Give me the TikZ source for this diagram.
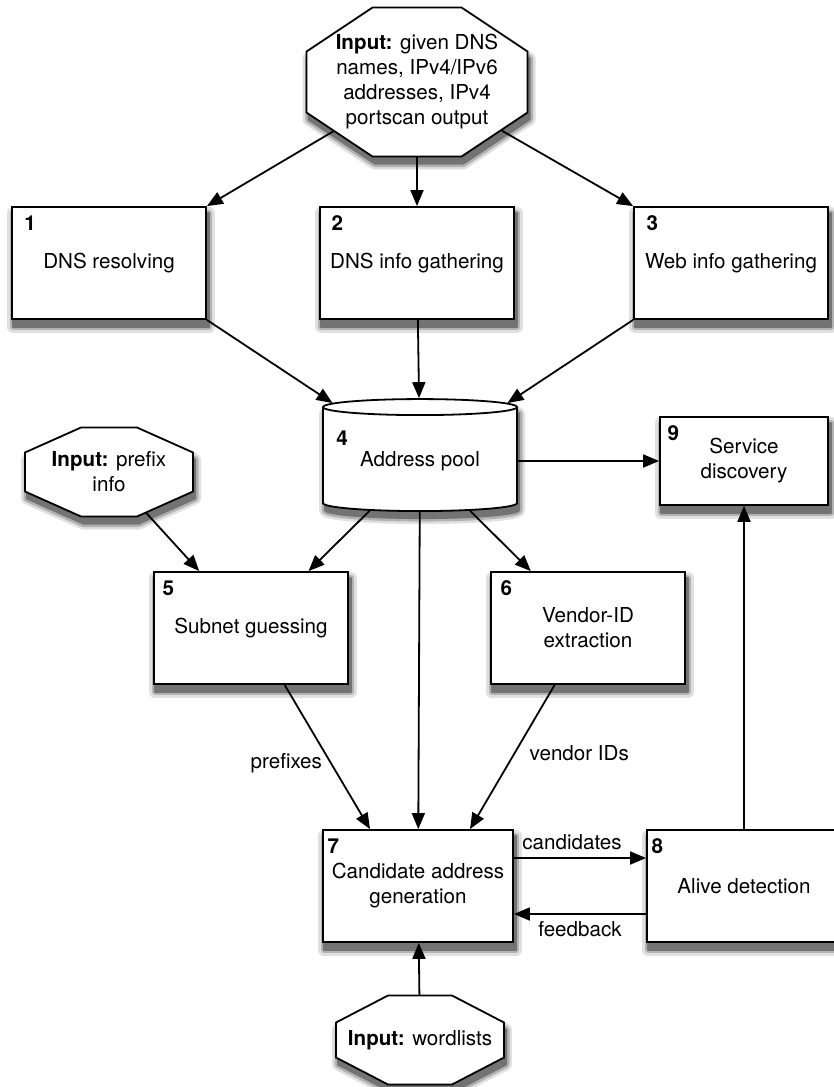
\documentclass[tikz,border=0pt]{standalone}
\usepackage{fontspec}
\setmainfont{TeX Gyre Heros}
\usetikzlibrary{arrows.meta,shapes.geometric,backgrounds}

% octagon path round a node: node, half width, half height, x cut, y cut, dx, dy (down)
\newcommand{\octp}[7]{([xshift=-#2+#4+#6, yshift=#3-#7]#1.center) -- ([xshift=#2-#4+#6, yshift=#3-#7]#1.center)
  -- ([xshift=#2+#6, yshift=#3-#5-#7]#1.center) -- ([xshift=#2+#6, yshift=-#3+#5-#7]#1.center)
  -- ([xshift=#2-#4+#6, yshift=-#3-#7]#1.center) -- ([xshift=-#2+#4+#6, yshift=-#3-#7]#1.center)
  -- ([xshift=-#2+#6, yshift=-#3+#5-#7]#1.center) -- ([xshift=-#2+#6, yshift=#3-#5-#7]#1.center) -- cycle}
\newcommand{\octa}[5]{%
  \filldraw[shA] \octp{#1}{#2}{#3}{#4}{#5}{1pt}{3.5pt};
  \filldraw[shB] \octp{#1}{#2}{#3}{#4}{#5}{1pt}{3.5pt};
  \filldraw[shC] \octp{#1}{#2}{#3}{#4}{#5}{1pt}{3.5pt};
  \draw[line width=0.9pt, fill=white] \octp{#1}{#2}{#3}{#4}{#5}{0pt}{0pt};}
% shadow under a box
\newcommand{\shad}[1]{%
  \filldraw[shA] ([xshift=1pt, yshift=-3.5pt]#1.south west) rectangle ([xshift=1pt, yshift=-3.5pt]#1.north east);
  \filldraw[shB] ([xshift=1pt, yshift=-3.5pt]#1.south west) rectangle ([xshift=1pt, yshift=-3.5pt]#1.north east);
  \filldraw[shC] ([xshift=1pt, yshift=-3.5pt]#1.south west) rectangle ([xshift=1pt, yshift=-3.5pt]#1.north east);}

\tikzset{
  shA/.style={draw=black!12, fill=black!12, line width=6pt, line join=round},
  shB/.style={draw=black!30, fill=black!30, line width=3.5pt, line join=round},
  shC/.style={draw=black!55, fill=black!55, line width=1pt, line join=round},
  box/.style={draw, line width=0.9pt, fill=white, minimum width=97pt, minimum height=56pt, align=center},
  inp/.style={inner sep=0pt, align=center},
  db/.style={cylinder, shape border rotate=90, aspect=0.12, draw, line width=0.9pt, fill=white, minimum width=97pt, minimum height=56pt},
  num/.style={anchor=north west, inner sep=0pt, font=\bfseries, yshift=-4.5pt},
  tag/.style 2 args={label={[num, xshift=#2]north west:#1}},
  arr/.style={-{Triangle[length=8pt,width=6.5pt]}, line width=0.9pt},
}

\begin{document}
\fontsize{10.3pt}{12.5pt}\selectfont
\begin{tikzpicture}[x=0.5pt, y=-0.5pt]
  \useasboundingbox (0,0) rectangle (834,1087);

  % inputs
  \node[inp, minimum width=110.5pt, minimum height=74.5pt] (in1) at (417,82)
    {\textbf{Input:} given DNS\\names, IPv4/IPv6\\addresses, IPv4\\portscan output};
  \node[inp, minimum width=84pt, minimum height=44.5pt] (pre) at (109,472)
    {\textbf{Input:} prefix\\info};
  \node[inp, minimum width=84pt, minimum height=44.5pt] (words) at (420,1040)
    {\textbf{Input:} wordlists};

  % gathering
  \node[box, tag={1}{6.5pt}] (b1) at (109,263) {DNS resolving};
  \node[box, tag={2}{6pt}] (b2) at (417,263) {DNS info gathering};
  \node[box, tag={3}{6.5pt}] (b3) at (731,263) {Web info gathering};

  % pool
  \node[db] (pool) at (420,461) {Address pool};
  \node[num, yshift=4.5pt] (n4) at ([xshift=-42pt, yshift=15.5pt]pool.center) {4};
  \node[box, minimum width=84pt, minimum height=44pt, tag={9}{4pt}] (b9) at (744,461) {Service\\discovery};

  % guessing
  \node[box, tag={5}{4.5pt}] (b5) at (251,628) {Subnet guessing};
  \node[box, tag={6}{5pt}] (b6) at (588,628) {Vendor-ID\\extraction};
  \node[box, minimum width=95pt, tag={7}{2.5pt}] (b7) at (418,886) {Candidate address\\generation};
  \node[box, tag={8}{2.5pt}] (b8) at (744,886) {Alive detection};

  % shadows and octagons
  \begin{scope}[on background layer]
    \shad{b1} \shad{b2} \shad{b3} \shad{b5}
    \shad{b6} \shad{b7} \shad{b8} \shad{b9}
    \node[db, shA, anchor=shape center] at ([xshift=1pt, yshift=-3.5pt]pool.shape center) {\phantom{Address pool}};
    \node[db, shB, anchor=shape center] at ([xshift=1pt, yshift=-3.5pt]pool.shape center) {\phantom{Address pool}};
    \node[db, shC, anchor=shape center] at ([xshift=1pt, yshift=-3.5pt]pool.shape center) {\phantom{Address pool}};
    \octa{in1}{55.25pt}{37.25pt}{33pt}{22pt}
    \octa{pre}{42pt}{22.25pt}{28pt}{12.5pt}
    \octa{words}{42pt}{22.25pt}{26pt}{13.5pt}
  \end{scope}

  % connectors
  \draw[arr, shorten <=-15.8pt] (in1) -- (b1.north east);
  \draw[arr] (in1) -- (b2);
  \draw[arr, shorten <=-15.2pt] (in1) -- (b3.north west);
  \draw[arr] (b1.south east) -- (pool);
  \draw[arr] (b2) -- (pool);
  \draw[arr] (b3.south west) -- (pool);
  \draw[arr] (pool) -- (b9);
  \draw[arr, shorten <=-2.7pt] (pre) -- (b5);
  \draw[arr] (pool) -- (b5);
  \draw[arr] (pool) -- (b6);
  \draw[arr] (pool) -- (b7);
  \draw[arr] (b5) -- ([xshift=-24pt]b7.north) node[pos=0.54, left=0.5pt] {prefixes};
  \draw[arr] (b6) -- ([xshift=26pt]b7.north) node[pos=0.47, right=3.5pt] {vendor IDs};
  \draw[arr] ([yshift=14pt]b7.east) -- ([yshift=14pt]b8.west) node[pos=0.44, above=0pt] {candidates};
  \draw[arr] ([yshift=-14pt]b8.west) -- ([yshift=-14pt]b7.east) node[pos=0.5, below=0pt] {feedback};
  \draw[arr] (words) -- (b7);
  \draw[arr] (b8) -- (b9);
\end{tikzpicture}
\end{document}
